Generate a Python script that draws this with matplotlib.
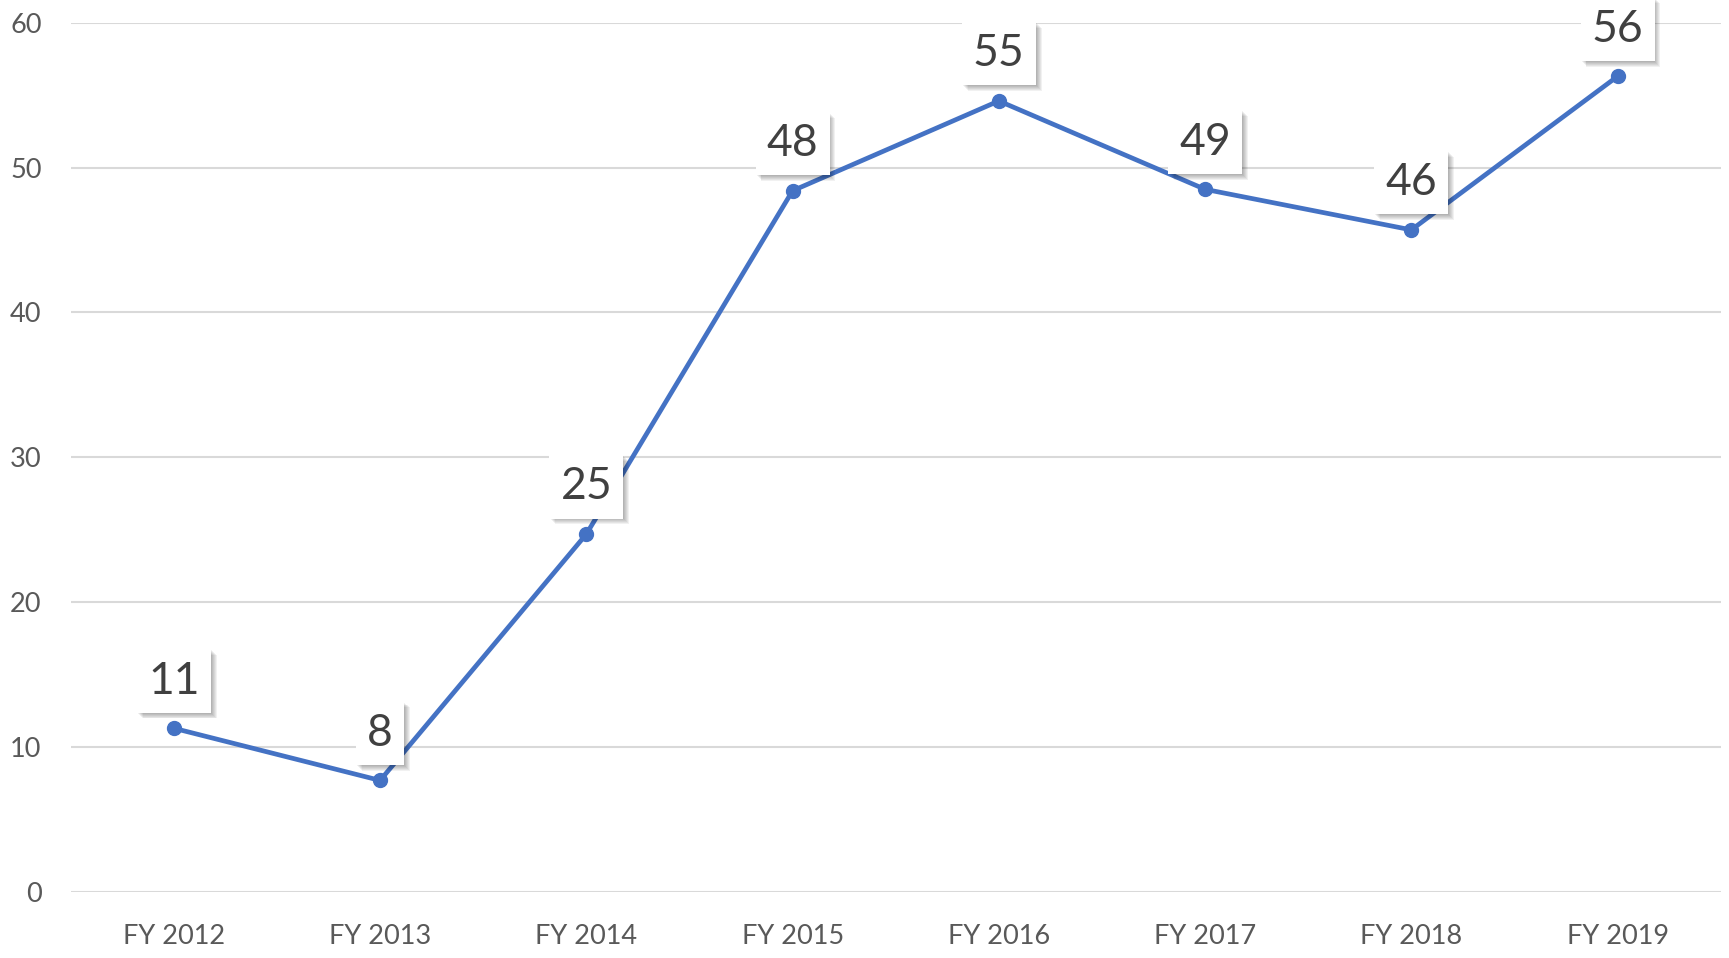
import matplotlib
matplotlib.use("Agg")
import matplotlib.pyplot as plt
import matplotlib.patheffects as pe

years = ["FY 2012", "FY 2013", "FY 2014", "FY 2015", "FY 2016", "FY 2017", "FY 2018", "FY 2019"]
values = [11.3, 7.7, 24.7, 48.4, 54.6, 48.5, 45.7, 56.3]
labels = ["11", "8", "25", "48", "55", "49", "46", "56"]
y_ticks = [0, 10, 20, 30, 40, 50, 60]

plt.rcParams['font.family'] = ['Lato', 'DejaVu Sans']

fig = plt.figure(figsize=(17.29, 9.58), dpi=100)
fig.patch.set_facecolor("#FFFFFF")
ax = fig.add_axes([0.0409, 0.0689, 0.9543, 0.9074])

x = list(range(len(years)))
ax.plot(x, values, color="#4472C4", linewidth=3.4, marker="o", markersize=10,
        solid_capstyle="round", zorder=3, clip_on=False)

# soft drop shadow: several faint offset copies of the box
shadow = [pe.SimplePatchShadow(offset=(0.7 * r, -0.7 * r), shadow_rgbFace="#000000", alpha=0.055)
          for r in range(1, 7)]

for xi, v, lab in zip(x, values, labels):
    t = ax.annotate(lab, (xi, v), xytext=(0, 34), textcoords="offset points",
                    ha="center", va="center", fontsize=32, color="#404040", zorder=5,
                    bbox=dict(boxstyle="square,pad=0.25", facecolor="white", edgecolor="none"))
    t.get_bbox_patch().set_path_effects(shadow + [pe.Normal()])

ax.set_xlim(-0.5, 7.5)
ax.set_ylim(0, 60)
ax.set_xticks(x)
ax.set_xticklabels(years)
ax.set_yticks(y_ticks)

for s in ax.spines.values():
    s.set_visible(False)
ax.yaxis.grid(True, color="#D9D9D9", linewidth=1.5)
ax.set_axisbelow(True)
ax.tick_params(axis="both", length=0, labelsize=19.5, labelcolor="#595959")
ax.tick_params(axis="y", pad=21)
ax.tick_params(axis="x", pad=23)

fig.savefig("out.png", dpi=100, facecolor="#FFFFFF")
